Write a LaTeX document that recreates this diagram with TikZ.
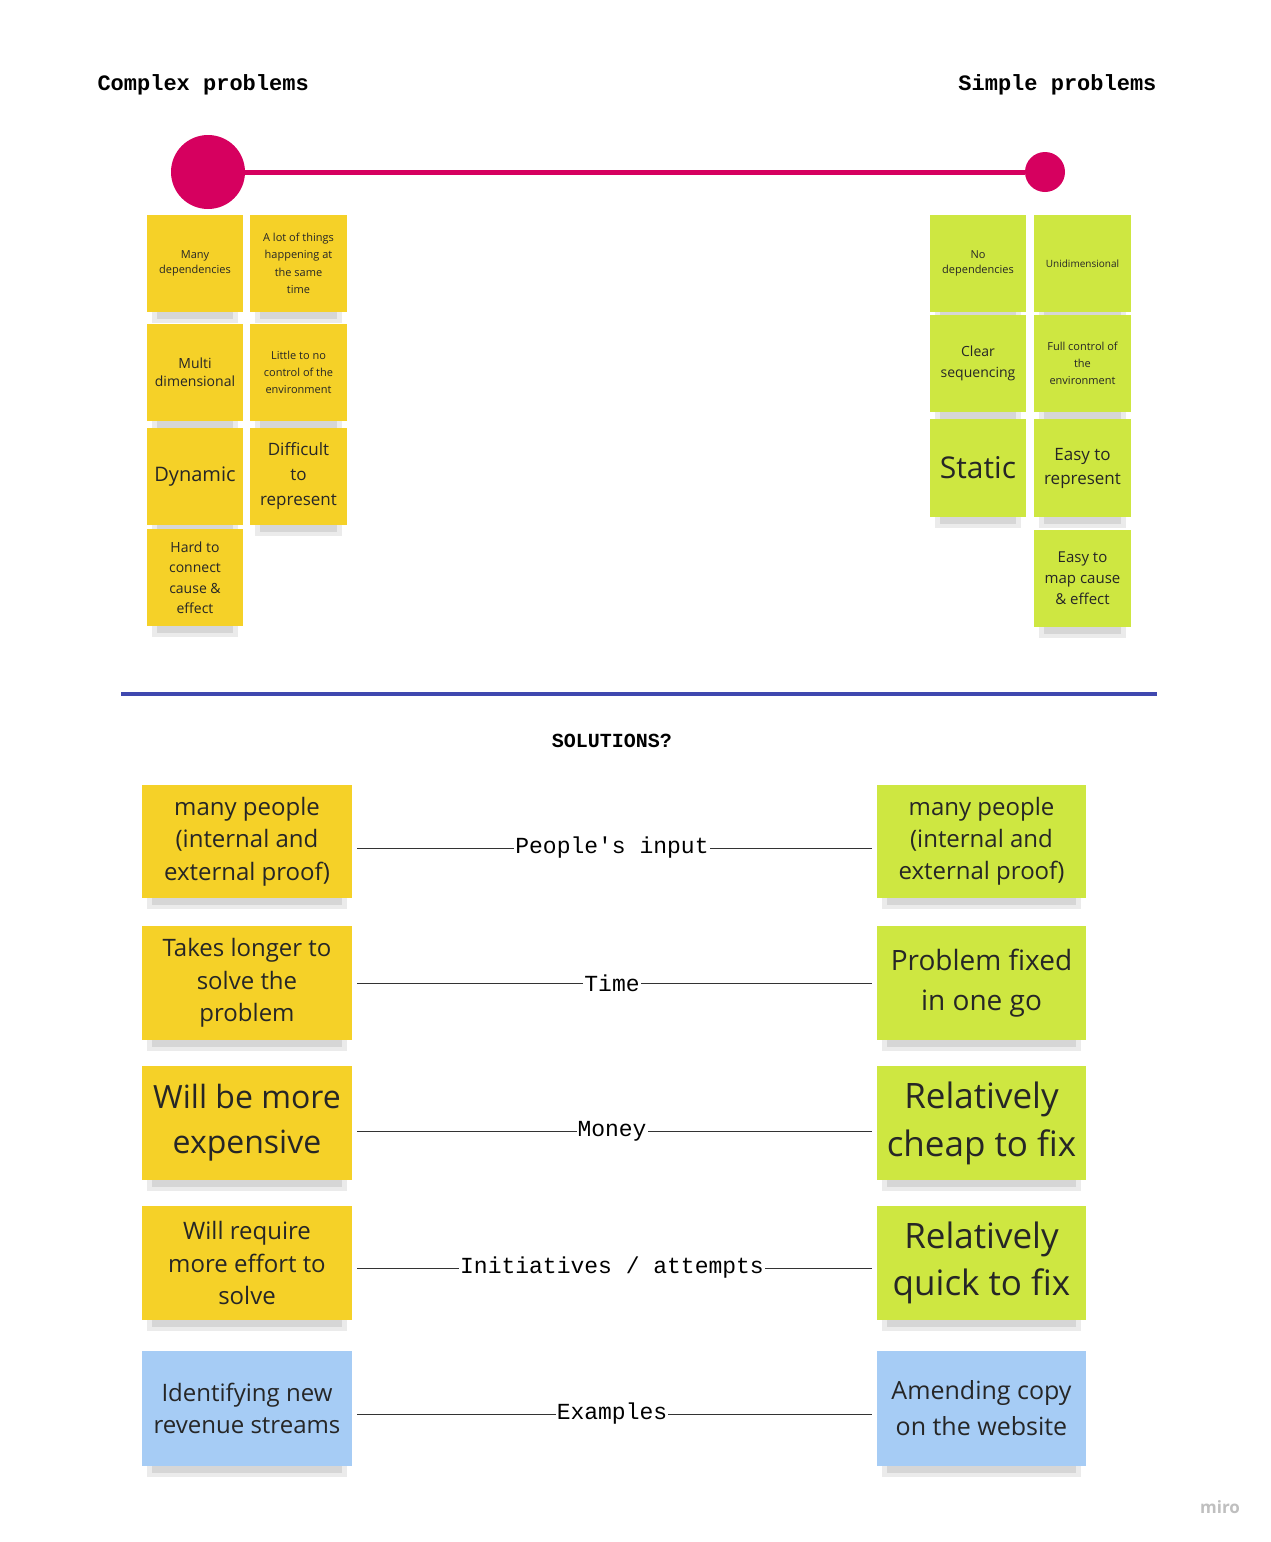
\documentclass[tikz,border=0pt]{standalone}
\usepackage{fontspec}
\usetikzlibrary{calc}
\setmainfont{Open Sans}
\newfontfamily\monob{Liberation Mono}
\definecolor{yel}{HTML}{F5D128}
\definecolor{grn}{HTML}{CEE741}
\definecolor{blu}{HTML}{A6CCF5}
\definecolor{mag}{HTML}{D6005F}
\definecolor{navy}{HTML}{3F48AF}
\tikzset{
 conn/.style={draw=black!80, line width=0.6pt},
 clab/.style={fill=white, inner sep=1pt, font=\monob\fontsize{23}{25}\selectfont}
}
\newcommand{\note}[8]{% name, x1,y1,x2,y2, color, font, text
 \fill[black!40, opacity=0.3] (#2+10,#5-2) rectangle (#4-10,#5+7);
 \fill[black!25, opacity=0.3] (#2+5,#5) rectangle (#4-5,#5+11);
 \fill[#6] (#2,#3) rectangle (#4,#5);
 \node[align=center, text=black!85, font=#7] (#1) at ({(#2+#4)/2},{(#3+#5)/2}) {#8};}
\begin{document}
\begin{tikzpicture}[x=1pt,y=-1pt]
\useasboundingbox[fill=white] (0,0) rectangle (1270,1542);
\node[anchor=west, font=\monob\bfseries\fontsize{22}{24}\selectfont] (t1) at (94,85) {Complex problems};
\node[anchor=east, font=\monob\bfseries\fontsize{22}{24}\selectfont] (t2) at (1160,85) {Simple problems};
\node[circle, fill=mag, minimum size=74pt, inner sep=0] (c1) at (208,172) {};
\node[circle, fill=mag, minimum size=40pt, inner sep=0] (c2) at (1045,172) {};
\draw[mag, line width=5pt] (c1) -- (c2);
% top left
\note{a1}{147}{215}{243}{312}{yel}{\fontsize{11}{15}\selectfont}{Many\\dependencies}
\note{a2}{250}{215}{347}{312}{yel}{\fontsize{11}{17.5}\selectfont}{A lot of things\\happening at\\the same\\time}
\note{a3}{147}{324}{243}{421}{yel}{\fontsize{14}{18}\selectfont}{Multi\\dimensional}
\note{a4}{250}{324}{347}{421}{yel}{\fontsize{11}{17}\selectfont}{Little to no\\control of the\\environment}
\note{a5}{147}{428}{243}{525}{yel}{\fontsize{20}{24}\selectfont}{Dynamic}
\note{a6}{250}{428}{347}{525}{yel}{\fontsize{17}{25}\selectfont}{Difficult\\to\\represent}
\note{a7}{147}{529}{243}{626}{yel}{\fontsize{14}{20.5}\selectfont}{Hard to\\connect\\cause \&\\effect}
% top right
\note{b1}{930}{215}{1026}{312}{grn}{\fontsize{11}{15}\selectfont}{No\\dependencies}
\note{b2}{1034}{215}{1131}{312}{grn}{\fontsize{10}{14}\selectfont}{Unidimensional}
\note{b3}{930}{315}{1026}{412}{grn}{\fontsize{14}{21}\selectfont}{Clear\\sequencing}
\note{b4}{1034}{315}{1131}{412}{grn}{\fontsize{11}{17}\selectfont}{Full control of\\the\\environment}
\note{b5}{930}{419}{1026}{517}{grn}{\fontsize{30}{34}\selectfont}{Static}
\note{b6}{1034}{419}{1131}{517}{grn}{\fontsize{17}{24}\selectfont}{Easy to\\represent}
\note{b7}{1034}{530}{1131}{627}{grn}{\fontsize{15}{21}\selectfont}{Easy to\\map cause\\\& effect}
\draw[navy, line width=4pt] (121,694) -- (1157,694);
\node[font=\monob\bfseries\fontsize{20}{24}\selectfont] (sol) at (612,741) {SOLUTIONS?};
% bottom
\note{l1}{142}{785}{352}{898}{yel}{\fontsize{24}{32.5}\selectfont}{many people\\(internal and\\external proof)}
\note{r1}{877}{785}{1086}{898}{grn}{\fontsize{24}{32}\selectfont}{many people\\(internal and\\external proof)}
\note{l2}{142}{926}{352}{1040}{yel}{\fontsize{24}{32.5}\selectfont}{Takes longer to\\solve the\\problem}
\note{r2}{877}{926}{1086}{1040}{grn}{\fontsize{28}{40}\selectfont}{Problem fixed\\in one go}
\note{l3}{142}{1066}{352}{1180}{yel}{\fontsize{32}{45}\selectfont}{Will be more\\expensive}
\note{r3}{877}{1066}{1086}{1180}{grn}{\fontsize{35}{48}\selectfont}{Relatively\\cheap to fix}
\note{l4}{142}{1206}{352}{1320}{yel}{\fontsize{24}{32.5}\selectfont}{Will require\\more effort to\\solve}
\note{r4}{877}{1206}{1086}{1320}{grn}{\fontsize{35}{47}\selectfont}{Relatively\\quick to fix}
\note{l5}{142}{1351}{352}{1466}{blu}{\fontsize{24}{32}\selectfont}{Identifying new\\revenue streams}
\note{r5}{877}{1351}{1086}{1466}{blu}{\fontsize{25}{36}\selectfont}{Amending copy\\on the website}
\foreach \i/\y/\lab in {1/848/{People's input},2/983/{Time},3/1131/{Money},4/1268/{Initiatives / attempts},5/1414/{Examples}}{
 \coordinate (s\i) at (357,\y);
 \coordinate (e\i) at (872,\y);
 \draw[conn] (s\i) -- (e\i);
 \node[clab] (lab\i) at (612,\y) {\lab};
}
\node[text=black!25, font=\fontsize{17}{20}\selectfont\bfseries] (miro) at (1220,1507) {miro};
\end{tikzpicture}
\end{document}
